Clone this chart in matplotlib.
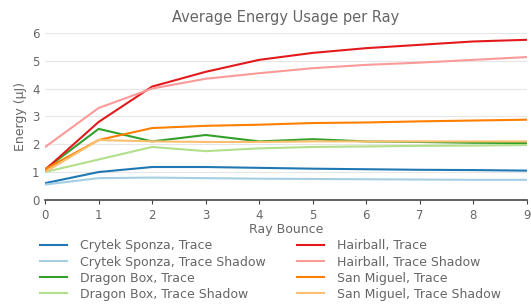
import numpy as np
import matplotlib
matplotlib.use('Agg')
import matplotlib.pyplot as plt

# dati
bounces = list(range(10))

crytek_trace = [0.6, 1.0, 1.18, 1.18, 1.15, 1.12, 1.1, 1.08, 1.07, 1.05]
crytek_shadow = [0.55, 0.78, 0.8, 0.78, 0.76, 0.75, 0.74, 0.73, 0.72, 0.72]
dragon_trace = [1.1, 2.55, 2.1, 2.33, 2.1, 2.18, 2.1, 2.08, 2.05, 2.04]
dragon_shadow = [1.0, 1.45, 1.9, 1.75, 1.85, 1.9, 1.92, 1.94, 1.95, 1.97]
hairball_trace = [1.08, 2.8, 4.07, 4.6, 5.03, 5.28, 5.45, 5.57, 5.69, 5.75]
hairball_shadow = [1.9, 3.3, 4.0, 4.35, 4.55, 4.73, 4.85, 4.93, 5.03, 5.13]
sanmiguel_trace = [1.1, 2.15, 2.58, 2.66, 2.7, 2.76, 2.78, 2.82, 2.85, 2.88]
sanmiguel_shadow = [1.0, 2.15, 2.1, 2.08, 2.08, 2.1, 2.1, 2.1, 2.1, 2.1]

series = [
    ('Crytek Sponza, Trace', crytek_trace, '#1f78b4'),
    ('Crytek Sponza, Trace Shadow', crytek_shadow, '#a6cee3'),
    ('Dragon Box, Trace', dragon_trace, '#33a02c'),
    ('Dragon Box, Trace Shadow', dragon_shadow, '#b2df8a'),
    ('Hairball, Trace', hairball_trace, '#e31a1c'),
    ('Hairball, Trace Shadow', hairball_shadow, '#fb9a99'),
    ('San Miguel, Trace', sanmiguel_trace, '#ff7f00'),
    ('San Miguel, Trace Shadow', sanmiguel_shadow, '#fdbf6f'),
]

grey = '#666666'
fig = plt.figure(figsize=(5.31, 3.07), dpi=100)
ax = fig.add_axes([0.085, 0.349, 0.907, 0.544])

for label, vals, col in series:
    ax.plot(bounces, vals, color=col, lw=1.5, label=label)

ax.set_xlim(0, 9)
ax.set_ylim(0, 6)
ax.set_xticks(bounces)
ax.set_yticks(range(7))
ax.grid(axis='y', color='#e6e6e6', lw=0.8)
ax.set_axisbelow(True)
for s in ['top', 'right', 'left']:
    ax.spines[s].set_visible(False)
ax.spines['bottom'].set_color('#444444')
ax.spines['bottom'].set_linewidth(1.2)
ax.tick_params(axis='x', colors=grey, labelsize=8.5, length=3, color='#444444')
ax.tick_params(axis='y', colors=grey, labelsize=8.5, length=0, pad=4)

ax.set_title('Average Energy Usage per Ray', color=grey, fontsize=10.5, pad=8)
ax.set_xlabel('Ray Bounce', color=grey, fontsize=9, labelpad=1)
ax.set_ylabel('Energy (μJ)', color=grey, fontsize=9)

leg = ax.legend(loc='upper left', bbox_to_anchor=(-0.035, -0.17), ncol=2,
                frameon=False, fontsize=9, handlelength=2.2, handletextpad=1.0,
                columnspacing=2.5, labelspacing=0.25)
for t in leg.get_texts():
    t.set_color(grey)

fig.savefig('out.png', dpi=100)
